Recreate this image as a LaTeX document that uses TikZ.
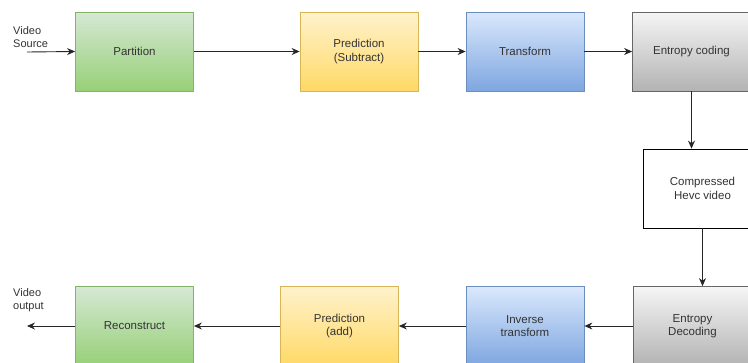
\documentclass[tikz,border=0pt]{standalone}
\usepackage{fontspec}
\setmainfont{Liberation Sans}
\usetikzlibrary{arrows.meta}
\definecolor{gtop}{HTML}{D5E8D4}\definecolor{gbot}{HTML}{97D077}\definecolor{gline}{HTML}{82B366}
\definecolor{ytop}{HTML}{FFF2CC}\definecolor{ybot}{HTML}{FFD966}\definecolor{yline}{HTML}{D6B656}
\definecolor{btop}{HTML}{DAE8FC}\definecolor{bbot}{HTML}{7EA6E0}\definecolor{bline}{HTML}{6C8EBF}
\definecolor{stop}{HTML}{F5F5F5}\definecolor{sbot}{HTML}{B3B3B3}\definecolor{sline}{HTML}{666666}
\definecolor{txt}{HTML}{333333}
\tikzset{
  blockbox/.style={minimum width=118pt,minimum height=79pt,inner sep=2pt,align=center,
    font=\fontsize{11.5pt}{13.5pt}\selectfont,text=txt,line width=0.8pt},
  greenbox/.style={blockbox,draw=gline,top color=gtop,bottom color=gbot},
  yellowbox/.style={blockbox,draw=yline,top color=ytop,bottom color=ybot},
  bluebox/.style={blockbox,draw=bline,top color=btop,bottom color=bbot},
  graybox/.style={blockbox,draw=sline,top color=stop,bottom color=sbot},
  whitebox/.style={blockbox,draw=black,fill=white,minimum width=119pt},
  flow/.style={draw=black!85,line width=0.9pt,-{Stealth[length=8pt,width=7pt]}},
  sidelabel/.style={align=left,anchor=west,inner sep=0pt,font=\fontsize{11pt}{13pt}\selectfont,text=txt}
}
\begin{document}
\begin{tikzpicture}[x=1pt,y=-1pt]
\useasboundingbox (0,0) rectangle (748,362);
\clip (0,0) rectangle (748,362);
\fill[white] (0,0) rectangle (748,362);
\node[greenbox]  (part)  at (134.5,51.5) {Partition};
\node[yellowbox] (predS) at (359,51.5) {Prediction\\(Subtract)};
\node[bluebox]   (trans) at (525,51.5) {Transform};
\node[graybox]   (entc)  at (691.5,51.5) {Entropy coding};
\node[whitebox]  (comp)  at (702.5,188.5) {Compressed\\ Hevc video};
\node[graybox]   (entd)  at (692.5,326) {Entropy\\Decoding};
\node[bluebox]   (invt)  at (525,326) {Inverse\\transform};
\node[yellowbox] (predA) at (339.5,326) {Prediction\\(add)};
\node[greenbox]  (recon) at (134.5,326) {Reconstruct};
\coordinate (src) at (27,52);
\coordinate (out) at (27,326);
\node[sidelabel] (srclbl) at (13,37) {Video\\Source};
\node[sidelabel] (outlbl) at (13,300.5) {Video\\output};
\draw[flow] (src) -- (part.west);
\draw[flow] (part.east) -- (predS.west);
\draw[flow] (predS.east) -- (trans.west);
\draw[flow] (trans.east) -- (entc.west);
\draw[flow] (entc.south) -- (comp.north -| entc.south);
\draw[flow] (comp.south) -- (entd.north -| comp.south);
\draw[flow] (entd.west) -- (invt.east);
\draw[flow] (invt.west) -- (predA.east);
\draw[flow] (predA.west) -- (recon.east);
\draw[flow] (recon.west) -- (out);
\end{tikzpicture}
\end{document}
